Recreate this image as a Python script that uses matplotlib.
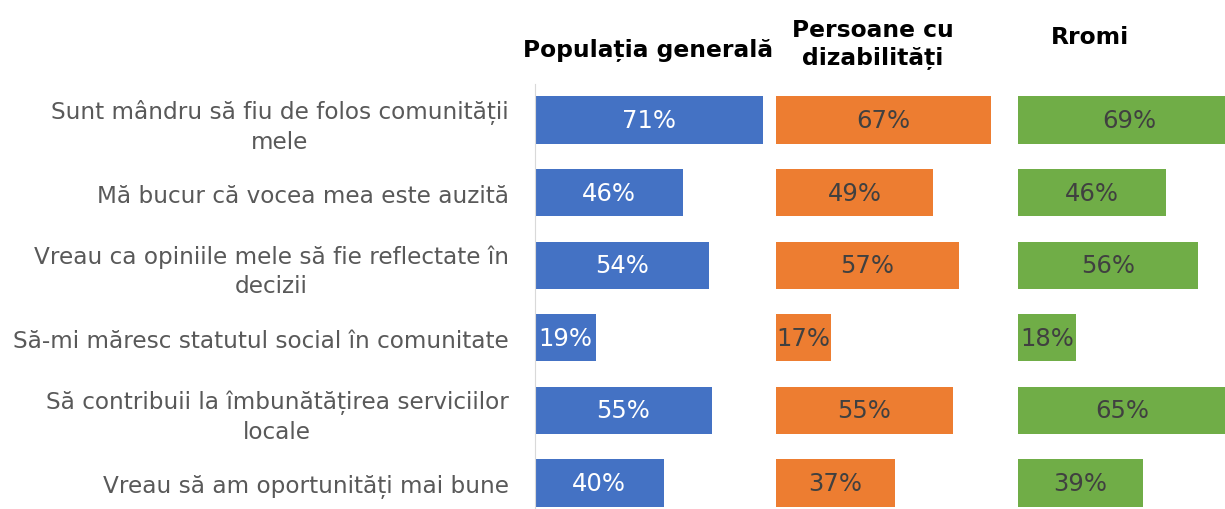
import matplotlib.pyplot as plt

categories = [
    "Sunt mândru să fiu de folos comunității\nmele",
    "Mă bucur că vocea mea este auzită",
    "Vreau ca opiniile mele să fie reflectate în\ndecizii",
    "Să-mi măresc statutul social în comunitate",
    "Să contribuii la îmbunătățirea serviciilor\nlocale",
    "Vreau să am oportunități mai bune",
]
groups = ["Populația generală", "Persoane cu\ndizabilități", "Rromi"]
populatie = [71, 46, 54, 19, 55, 40]
dizabilitati = [67, 49, 57, 17, 55, 37]
rromi = [69, 46, 56, 18, 65, 39]

series = [populatie, dizabilitati, rromi]
colors = ["#4472C4", "#ED7D31", "#70AD47"]
label_colors = ["white", "#404040", "#404040"]
header_x = [0.47, 0.40, 0.30]
header_y = [50, 44, 38]  # pixel centre of each header

W, H = 1225, 510
fig = plt.figure(figsize=(W / 100, H / 100), dpi=100)

panel_left = [535, 776, 1018]
panel_w = 241
row = 72.6
top = 121 - row / 2
ax_h = row * 6

for k in range(3):
    ax = fig.add_axes([panel_left[k] / W, (H - top - ax_h) / H, panel_w / W, ax_h / H])
    y = range(len(categories))
    bars = ax.barh(y, series[k], height=0.65, color=colors[k])
    ax.set_xlim(0, 75)
    ax.set_ylim(len(categories) - 0.5, -0.5)
    for b, v in zip(bars, series[k]):
        ax.text(b.get_width() / 2, b.get_y() + b.get_height() / 2, f"{v}%",
                ha="center", va="center", fontsize=17.5, color=label_colors[k])
    ax.set_xticks([])
    for s in ["top", "right", "bottom"]:
        ax.spines[s].set_visible(False)
    if k == 0:
        ax.spines["left"].set_color("#D9D9D9")
        ax.set_yticks(list(y))
        ax.set_yticklabels(categories, fontsize=16.7, color="#595959",
                           multialignment="center", linespacing=1.35)
        ax.tick_params(axis="y", length=0, pad=19)
    else:
        ax.spines["left"].set_visible(False)
        ax.set_yticks([])
    fig.text((panel_left[k] + header_x[k] * panel_w) / W, 1 - header_y[k] / H, groups[k],
             ha="center", va="center", fontsize=16.8, fontweight="bold",
             color="black", linespacing=1.25)

fig.savefig("out.png", dpi=100)
